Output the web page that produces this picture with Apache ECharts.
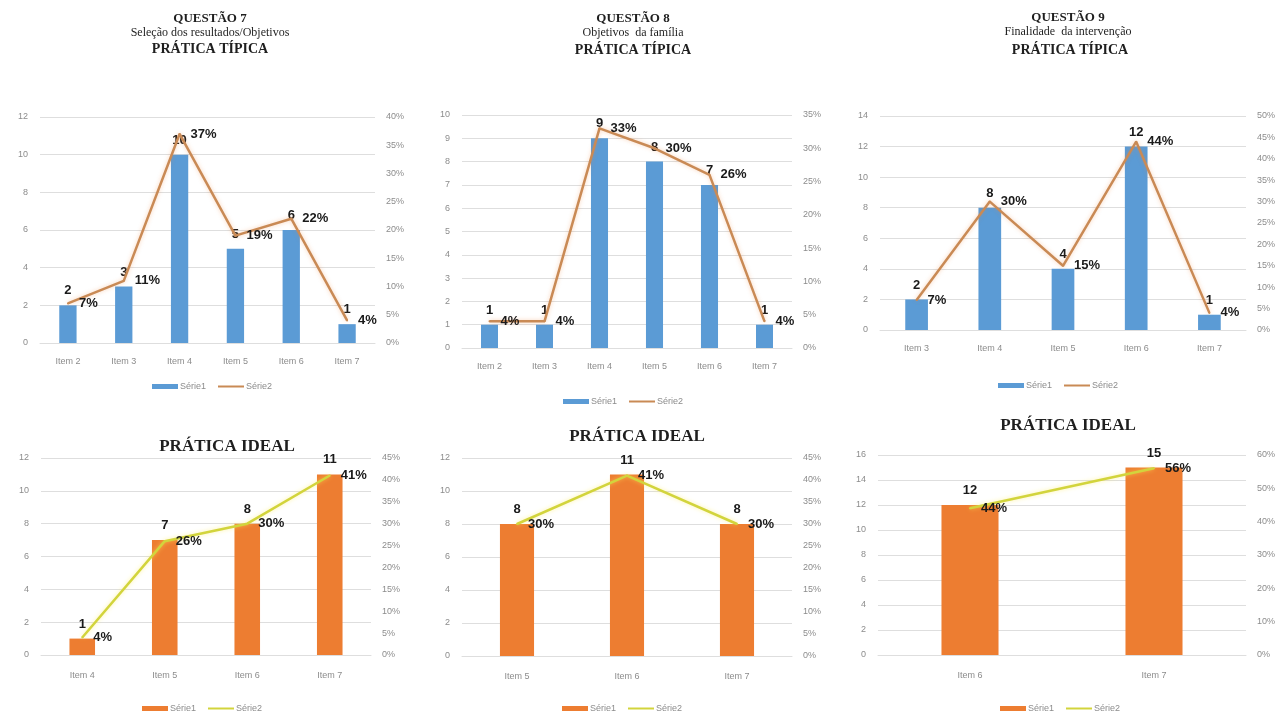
<!DOCTYPE html>
<html>
<head>
<meta charset="utf-8">
<title>Questões 7, 8 e 9 — Prática típica e prática ideal</title>
<script src="https://cdn.jsdelivr.net/npm/echarts@6/dist/echarts.min.js"></script>
<style>
  html, body { margin: 0; padding: 0; background: #ffffff; }
  #chart { width: 1287px; height: 716px; }
</style>
</head>
<body>
<div id="chart"></div>
<script>
// Questão 7 — Seleção dos resultados/Objetivos
const q7TypicalCategories = ['Item 2', 'Item 3', 'Item 4', 'Item 5', 'Item 6', 'Item 7'];
const q7TypicalCounts = [2, 3, 10, 5, 6, 1];
const q7TypicalPercents = [7, 11, 37, 19, 22, 4];
const q7IdealCategories = ['Item 4', 'Item 5', 'Item 6', 'Item 7'];
const q7IdealCounts = [1, 7, 8, 11];
const q7IdealPercents = [4, 26, 30, 41];

// Questão 8 — Objetivos da família
const q8TypicalCategories = ['Item 2', 'Item 3', 'Item 4', 'Item 5', 'Item 6', 'Item 7'];
const q8TypicalCounts = [1, 1, 9, 8, 7, 1];
const q8TypicalPercents = [4, 4, 33, 30, 26, 4];
const q8IdealCategories = ['Item 5', 'Item 6', 'Item 7'];
const q8IdealCounts = [8, 11, 8];
const q8IdealPercents = [30, 41, 30];

// Questão 9 — Finalidade da intervenção
const q9TypicalCategories = ['Item 3', 'Item 4', 'Item 5', 'Item 6', 'Item 7'];
const q9TypicalCounts = [2, 8, 4, 12, 1];
const q9TypicalPercents = [7, 30, 15, 44, 4];
const q9IdealCategories = ['Item 6', 'Item 7'];
const q9IdealCounts = [12, 15];
const q9IdealPercents = [44, 56];

// Axis scales: [max, interval] for the count axis and the percent axis
const q7TypicalCountAxis = [12, 2];
const q7TypicalPercentAxis = [40, 5];
const q8TypicalCountAxis = [10, 1];
const q8TypicalPercentAxis = [35, 5];
const q9TypicalCountAxis = [14, 2];
const q9TypicalPercentAxis = [50, 5];
const q7IdealCountAxis = [12, 2];
const q7IdealPercentAxis = [45, 5];
const q8IdealCountAxis = [12, 2];
const q8IdealPercentAxis = [45, 5];
const q9IdealCountAxis = [16, 2];
const q9IdealPercentAxis = [60, 10];

const seriesNames = ['Série1', 'Série2'];

const BLUE = '#5b9bd5';
const TAN = '#c98a55';
const ORANGE = '#ed7d31';
const YELLOW = '#d2d43c';
const AXIS_TEXT = '#8c8c8c';
const GRID_LINE = '#dedede';

const panels = [
  { cats: q7TypicalCategories, counts: q7TypicalCounts, pcts: q7TypicalPercents,
    cAxis: q7TypicalCountAxis, pAxis: q7TypicalPercentAxis,
    grid: { left: 40, top: 117, width: 335, height: 226 },
    barColor: BLUE, lineColor: TAN, glow: 'rgba(237,125,49,0.35)',
    legend: { left: 147, top: 377 }, xMargin: 14 },
  { cats: q8TypicalCategories, counts: q8TypicalCounts, pcts: q8TypicalPercents,
    cAxis: q8TypicalCountAxis, pAxis: q8TypicalPercentAxis,
    grid: { left: 462, top: 115, width: 330, height: 233 },
    barColor: BLUE, lineColor: TAN, glow: 'rgba(237,125,49,0.35)',
    legend: { left: 558, top: 392 }, xMargin: 14 },
  { cats: q9TypicalCategories, counts: q9TypicalCounts, pcts: q9TypicalPercents,
    cAxis: q9TypicalCountAxis, pAxis: q9TypicalPercentAxis,
    grid: { left: 880, top: 116, width: 366, height: 214 },
    barColor: BLUE, lineColor: TAN, glow: 'rgba(237,125,49,0.35)',
    legend: { left: 993, top: 376 }, xMargin: 14 },
  { cats: q7IdealCategories, counts: q7IdealCounts, pcts: q7IdealPercents,
    cAxis: q7IdealCountAxis, pAxis: q7IdealPercentAxis,
    grid: { left: 41, top: 458, width: 330, height: 197 },
    barColor: ORANGE, lineColor: YELLOW, glow: 'rgba(255,235,90,0.55)',
    legend: { left: 137, top: 699 }, xMargin: 16 },
  { cats: q8IdealCategories, counts: q8IdealCounts, pcts: q8IdealPercents,
    cAxis: q8IdealCountAxis, pAxis: q8IdealPercentAxis,
    grid: { left: 462, top: 458, width: 330, height: 198 },
    barColor: ORANGE, lineColor: YELLOW, glow: 'rgba(255,235,90,0.55)',
    legend: { left: 557, top: 699 }, xMargin: 16 },
  { cats: q9IdealCategories, counts: q9IdealCounts, pcts: q9IdealPercents,
    cAxis: q9IdealCountAxis, pAxis: q9IdealPercentAxis,
    grid: { left: 878, top: 455, width: 368, height: 200 },
    barColor: ORANGE, lineColor: YELLOW, glow: 'rgba(255,235,90,0.55)',
    legend: { left: 995, top: 699 }, xMargin: 16 }
];

const titleLines = [
  // [text, centre x, top y, size, bold]
  ['QUESTÃO 7', 205, 7, 13, true],
  ['Seleção dos resultados/Objetivos', 205, 22, 12, false],
  ['PRÁTICA TÍPICA', 205, 37, 14, true],
  ['QUESTÃO 8', 628, 7, 13, true],
  ['Objetivos  da família', 628, 22, 12, false],
  ['PRÁTICA TÍPICA', 628, 38, 14, true],
  ['QUESTÃO 9', 1063, 6, 13, true],
  ['Finalidade  da intervenção', 1063, 21, 12, false],
  ['PRÁTICA TÍPICA', 1065, 38, 14, true],
  ['PRÁTICA IDEAL', 222, 433, 17, true],
  ['PRÁTICA IDEAL', 632, 423, 17, true],
  ['PRÁTICA IDEAL', 1063, 412, 17, true]
];

const axisLabelStyle = { color: AXIS_TEXT, fontSize: 9, fontFamily: 'Liberation Sans, Arial, sans-serif' };
const dataLabelStyle = { color: '#1a1a1a', fontSize: 13, fontWeight: 'bold', fontFamily: 'Liberation Sans, Arial, sans-serif' };

const option = {
  backgroundColor: '#ffffff',
  animation: false,
  title: titleLines.map(([text, x, y, size, bold]) => ({
    text, left: x, top: y, textAlign: 'center',
    textStyle: { fontFamily: 'Liberation Serif, Times New Roman, serif', fontSize: size,
      fontWeight: bold ? 'bold' : 'normal', color: '#1f1f1f' }
  })),
  grid: [], xAxis: [], yAxis: [], series: [], legend: []
};

panels.forEach((p, i) => {
  option.grid.push(Object.assign({ containLabel: false }, p.grid));
  option.xAxis.push({
    type: 'category', gridIndex: i, data: p.cats,
    axisLine: { lineStyle: { color: GRID_LINE } },
    axisTick: { show: false },
    axisLabel: Object.assign({ margin: p.xMargin }, axisLabelStyle)
  });
  option.yAxis.push({
    type: 'value', gridIndex: i, position: 'left', min: 0,
    max: p.cAxis[0], interval: p.cAxis[1],
    axisLine: { show: false }, axisTick: { show: false },
    axisLabel: Object.assign({ margin: 12 }, axisLabelStyle),
    splitLine: { lineStyle: { color: GRID_LINE, width: 1 } }
  });
  option.yAxis.push({
    type: 'value', gridIndex: i, position: 'right', min: 0,
    max: p.pAxis[0], interval: p.pAxis[1],
    axisLine: { show: false }, axisTick: { show: false },
    axisLabel: Object.assign({ margin: 11, formatter: '{value}%' }, axisLabelStyle),
    splitLine: { show: false }
  });
  option.series.push({
    name: seriesNames[0], type: 'bar', xAxisIndex: i, yAxisIndex: 2 * i,
    data: p.counts, barWidth: '31%',
    itemStyle: { color: p.barColor },
    label: Object.assign({ show: true, position: 'top', distance: 8 }, dataLabelStyle),
    z: 2
  });
  option.series.push({
    name: seriesNames[1], type: 'line', xAxisIndex: i, yAxisIndex: 2 * i + 1,
    data: p.pcts, symbol: 'circle', symbolSize: 2, showSymbol: true,
    lineStyle: { color: p.lineColor, width: 2.5, shadowColor: p.glow, shadowBlur: 4 },
    itemStyle: { color: p.lineColor },
    label: Object.assign({ show: true, position: 'right', distance: 10, formatter: '{c}%' }, dataLabelStyle),
    labelLayout: { hideOverlap: false },
    z: 3
  });
  option.legend.push({
    left: p.legend.left, top: p.legend.top, orient: 'horizontal',
    itemWidth: 26, itemHeight: 5, itemGap: 12,
    selectedMode: false,
    textStyle: { color: AXIS_TEXT, fontSize: 9, fontFamily: 'Liberation Sans, Arial, sans-serif', padding: [0, 0, 0, -3] },
    data: [
      { name: seriesNames[0], icon: 'rect', itemStyle: { color: p.barColor } },
      { name: seriesNames[1], icon: 'path://M0,0 L26,0 L26,2 L0,2 Z', itemStyle: { color: p.lineColor } }
    ]
  });
});

const chart = echarts.init(document.getElementById('chart'), null, { renderer: 'canvas' });
chart.setOption(option);
</script>
</body>
</html>
